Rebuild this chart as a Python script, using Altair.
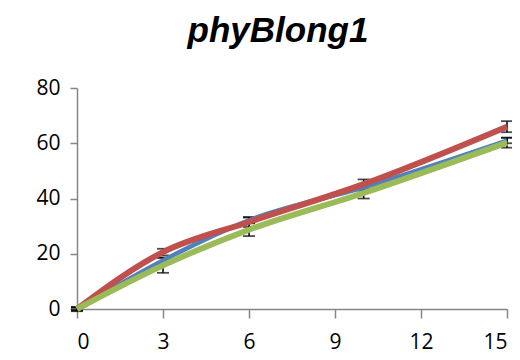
import altair as alt
import pandas as pd

days = [0, 3, 6, 10, 15]
series = ["Blue", "Red", "Green"]
blue = [0.0, 17.6, 32.1, 44.0, 61.0]
red = [0.0, 20.6, 31.5, 45.2, 66.0]
green = [0.0, 15.8, 28.7, 42.0, 60.2]
blue_err = [0.5, 1.0, 1.0, 1.2, 1.0]
red_err = [0.8, 1.2, 1.8, 1.7, 2.0]
green_err = [0.5, 2.7, 2.3, 2.0, 1.8]
x_ticks = [0, 3, 6, 9, 12, 15]
y_ticks = [0, 20, 40, 60, 80]

colors = {"Blue": "#4F81BD", "Red": "#C0504D", "Green": "#9BBB59"}
widths = {"Blue": 4.5, "Red": 6, "Green": 6}

rows = []
for name, vals, errs in [("Blue", blue, blue_err), ("Red", red, red_err), ("Green", green, green_err)]:
    for d, v, e in zip(days, vals, errs):
        rows.append({"day": d, "value": v, "lo": v - e, "hi": v + e, "series": name})
df = pd.DataFrame(rows)

xs = alt.Scale(domain=[0, 15], nice=False)
ys = alt.Scale(domain=[0, 80], nice=False)

xaxis = alt.Axis(values=x_ticks, grid=False, title=None, domainColor="#868686", tickColor="#868686",
                 tickSize=9, labelPadding=13, labelFontSize=21, labelFont="Open Sans", labelColor="black",
                 domainWidth=1.5, tickWidth=1.5)
yaxis = alt.Axis(values=y_ticks, grid=False, title=None, domainColor="#868686", tickColor="#868686",
                 tickSize=7, labelPadding=10, labelFontSize=21, labelFont="Open Sans", labelColor="black",
                 domainWidth=1.5, tickWidth=1.5)

base = alt.Chart(df)

err_rule = base.mark_rule(color="black", strokeWidth=1.5).encode(
    x=alt.X("day:Q", scale=xs, axis=xaxis),
    y=alt.Y("lo:Q", scale=ys, axis=yaxis),
    y2="hi:Q",
)
cap_lo = base.mark_tick(color="black", thickness=1.8, size=12, orient="horizontal").encode(
    x=alt.X("day:Q", scale=xs), y=alt.Y("lo:Q", scale=ys))
cap_hi = base.mark_tick(color="black", thickness=1.8, size=12, orient="horizontal").encode(
    x=alt.X("day:Q", scale=xs), y=alt.Y("hi:Q", scale=ys))

lines = []
for name in series:
    lines.append(
        base.transform_filter(alt.datum.series == name)
        .mark_line(color=colors[name], strokeWidth=widths[name], interpolate="monotone", strokeCap="butt")
        .encode(x=alt.X("day:Q", scale=xs), y=alt.Y("value:Q", scale=ys))
    )

chart = alt.layer(err_rule, cap_lo, cap_hi, *lines).properties(
    width=430,
    height=221,
    autosize=alt.AutoSizeParams(type="none"),
    padding={"left": 69, "top": 80, "right": 5, "bottom": 52},
    title=alt.TitleParams("phyBlong1", font="Liberation Sans", fontSize=35, fontWeight="bold", fontStyle="italic",
                          anchor="middle", frame="group", offset=28, dx=-14, color="black"),
).configure_view(stroke=None)

chart.save("out.html", embed_options={"renderer": "svg", "actions": False})
